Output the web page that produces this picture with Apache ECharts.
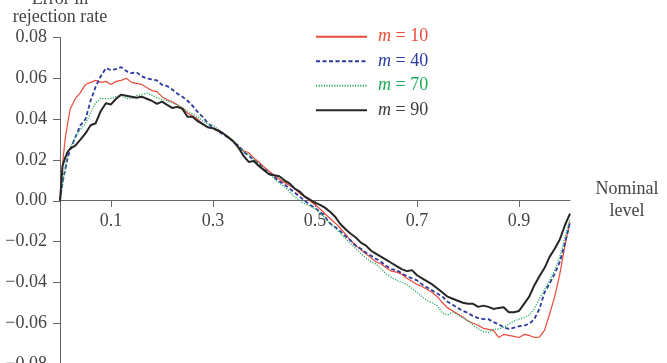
<!DOCTYPE html>
<html>
<head>
<meta charset="utf-8">
<script src="https://cdn.jsdelivr.net/npm/echarts@6/dist/echarts.min.js"></script>
<style>html,body{margin:0;padding:0;background:#fff}#c{width:667px;height:363px}</style>
</head>
<body>
<div id="c"></div>
<script>
var xs = [0,0.005,0.01,0.015,0.02,0.03,0.04,0.05,0.06,0.07,0.08,0.09,0.10,0.11,0.12,0.13,0.14,0.15,0.16,0.17,0.18,0.19,0.20,0.21,0.22,0.23,0.24,0.25,0.26,0.27,0.28,0.29,0.30,0.31,0.32,0.33,0.34,0.35,0.36,0.37,0.38,0.39,0.40,0.41,0.42,0.43,0.44,0.45,0.46,0.47,0.48,0.49,0.50,0.51,0.52,0.53,0.54,0.55,0.56,0.57,0.58,0.59,0.60,0.61,0.62,0.63,0.64,0.65,0.66,0.67,0.68,0.69,0.70,0.71,0.72,0.73,0.74,0.75,0.76,0.77,0.78,0.79,0.80,0.81,0.82,0.83,0.84,0.85,0.86,0.87,0.88,0.89,0.90,0.91,0.92,0.93,0.94,0.95,0.96,0.97,0.98,0.99,1.00];

var m10 = [0,0.018,0.030,0.038,0.045,0.050,0.053,0.057,0.058,0.059,0.058,0.0585,0.057,0.0585,0.059,0.060,0.058,0.0575,0.057,0.0555,0.054,0.0535,0.051,0.0495,0.0485,0.047,0.0455,0.043,0.0415,0.040,0.0375,0.036,0.0355,0.034,0.033,0.0315,0.029,0.0265,0.0245,0.0235,0.021,0.019,0.0165,0.0145,0.0125,0.0105,0.009,0.0075,0.006,0.0035,0.002,0.000,-0.002,-0.004,-0.0065,-0.0088,-0.011,-0.0135,-0.0165,-0.0195,-0.022,-0.024,-0.026,-0.028,-0.030,-0.031,-0.033,-0.0345,-0.035,-0.036,-0.038,-0.0395,-0.041,-0.042,-0.0435,-0.045,-0.047,-0.050,-0.0525,-0.054,-0.0555,-0.057,-0.059,-0.060,-0.061,-0.0625,-0.063,-0.0635,-0.067,-0.0655,-0.066,-0.0665,-0.067,-0.0655,-0.066,-0.067,-0.0668,-0.0635,-0.0555,-0.047,-0.036,-0.022,-0.0104];

var m40 = [0,0.009,0.015,0.021,0.025,0.031,0.037,0.040,0.049,0.056,0.061,0.065,0.064,0.0645,0.0655,0.0635,0.0625,0.063,0.061,0.060,0.0595,0.059,0.0568,0.0562,0.0545,0.0525,0.051,0.049,0.0465,0.0435,0.041,0.038,0.036,0.034,0.0325,0.031,0.029,0.027,0.024,0.022,0.020,0.018,0.0155,0.0135,0.0115,0.0095,0.008,0.006,0.004,0.002,0.000,-0.002,-0.0035,-0.0055,-0.008,-0.0112,-0.013,-0.015,-0.0175,-0.0195,-0.022,-0.0235,-0.0255,-0.027,-0.0285,-0.030,-0.032,-0.0335,-0.034,-0.0355,-0.037,-0.038,-0.039,-0.041,-0.0425,-0.044,-0.0455,-0.047,-0.0495,-0.051,-0.0525,-0.054,-0.055,-0.0565,-0.0575,-0.058,-0.058,-0.0595,-0.0605,-0.062,-0.0628,-0.0622,-0.0615,-0.0612,-0.0603,-0.058,-0.053,-0.045,-0.0405,-0.0358,-0.030,-0.021,-0.0104];

var m70 = [0,0.008,0.016,0.023,0.026,0.031,0.035,0.038,0.043,0.048,0.0502,0.050,0.0502,0.051,0.0518,0.0502,0.050,0.0515,0.052,0.0527,0.0518,0.0505,0.0496,0.049,0.0478,0.047,0.0455,0.044,0.0425,0.0412,0.039,0.0375,0.037,0.035,0.033,0.0315,0.0295,0.0265,0.024,0.0225,0.0205,0.018,0.0155,0.013,0.011,0.0085,0.007,0.0045,0.002,0.000,-0.0015,-0.0025,-0.004,-0.006,-0.0085,-0.0112,-0.0135,-0.016,-0.0185,-0.021,-0.0235,-0.026,-0.028,-0.030,-0.031,-0.0335,-0.036,-0.0375,-0.039,-0.040,-0.041,-0.043,-0.045,-0.047,-0.049,-0.050,-0.0515,-0.055,-0.056,-0.0546,-0.056,-0.0575,-0.0587,-0.061,-0.0628,-0.064,-0.0645,-0.063,-0.0628,-0.062,-0.0605,-0.059,-0.058,-0.0573,-0.056,-0.053,-0.048,-0.0435,-0.039,-0.034,-0.0275,-0.018,-0.009];

var m90 = [0,0.017,0.021,0.024,0.0255,0.027,0.030,0.033,0.037,0.038,0.044,0.0478,0.0472,0.050,0.052,0.0515,0.051,0.0505,0.051,0.050,0.049,0.0475,0.0486,0.047,0.0455,0.046,0.045,0.0412,0.0412,0.039,0.0375,0.036,0.0355,0.0345,0.033,0.031,0.029,0.026,0.022,0.019,0.0195,0.017,0.015,0.013,0.0125,0.012,0.010,0.0085,0.006,0.0045,0.002,0.0005,-0.001,-0.002,-0.0035,-0.0055,-0.008,-0.0115,-0.014,-0.0162,-0.018,-0.0205,-0.022,-0.0245,-0.026,-0.0275,-0.029,-0.0305,-0.032,-0.0335,-0.0345,-0.034,-0.0365,-0.038,-0.0395,-0.041,-0.043,-0.045,-0.047,-0.048,-0.049,-0.050,-0.0505,-0.0505,-0.052,-0.0514,-0.052,-0.053,-0.0525,-0.0522,-0.0546,-0.0546,-0.054,-0.0505,-0.047,-0.0415,-0.037,-0.033,-0.0275,-0.0235,-0.019,-0.012,-0.0063];

var seriesNames = ['m = 10', 'm = 40', 'm = 70', 'm = 90'];
var seriesValues = [m10, m40, m70, m90];
var xTicks = [0.1, 0.3, 0.5, 0.7, 0.9];
var yMin = -0.08, yMax = 0.08, yStep = 0.02;

var colors = ['#ea4a3a', '#2b3a9c', '#2aae62', '#262626'];
var textColors = ['#ea4a3a', '#2b3a9c', '#22a85a', '#3a3a3a'];
var lineStyles = [
  {width: 1.2, type: 'solid'},
  {width: 1.8, type: [4, 2.5]},
  {width: 1.3, type: [1.2, 1.4]},
  {width: 2.0, type: 'solid'}
];
var FONT = '"Liberation Serif", "DejaVu Serif", serif';

function pairs(vals) {
  return xs.map(function (x, i) { return [x, vals[i]]; });
}

var chart = echarts.init(document.getElementById('c'), null, {renderer: 'canvas'});
chart.setOption({
  animation: false,
  backgroundColor: '#fff',
  grid: [
    {left: 60, right: 97, top: 37.5, bottom: -1, containLabel: false, outerBoundsMode: 'none'},
    // upper half: its bottom edge sits at y = 0 of the main grid, carrying the x axis
    {left: 60, right: 97, top: 37.5, bottom: 163, containLabel: false, outerBoundsMode: 'none'}
  ],
  legend: {
    orient: 'vertical',
    left: 310,
    top: 21.7,
    itemWidth: 51,
    itemHeight: 14,
    itemGap: 4.5,
    itemStyle: {color: 'rgba(0,0,0,0)', borderColor: 'rgba(0,0,0,0)', borderWidth: 0, opacity: 0},
    data: seriesNames.map(function (n, i) {
      return {name: n, textStyle: {color: textColors[i]}};
    }),
    formatter: function (name) {
      return '{i|m} = ' + name.split('= ')[1];
    },
    textStyle: {
      fontFamily: FONT, fontSize: 18, lineHeight: 20,
      rich: {i: {fontFamily: FONT, fontSize: 18, fontStyle: 'italic', padding: [0, 0, 0, 6]}}
    }
  },
  xAxis: [
    {
      gridIndex: 0, type: 'value', min: 0, max: 1, show: false
    },
    {
      gridIndex: 1, type: 'value', min: 0, max: 1, position: 'bottom',
      name: 'Nominal\nlevel', nameLocation: 'end', nameGap: 57,
      nameTextStyle: {fontFamily: FONT, fontSize: 18, color: '#444', align: 'center', lineHeight: 22},
      axisLine: {show: true, onZero: false, lineStyle: {color: '#666', width: 1}},
      axisTick: {show: true, length: 7, inside: false, customValues: xTicks, lineStyle: {color: '#666'}},
      axisLabel: {customValues: xTicks, margin: 12, fontFamily: FONT, fontSize: 18, color: '#444',
        formatter: function (v) { return v.toFixed(1); }},
      splitLine: {show: false}
    }
  ],
  yAxis: [
    {
      gridIndex: 0, type: 'value', min: yMin, max: yMax, interval: yStep,
      name: 'Error in\nrejection rate', nameLocation: 'end', nameGap: 11.5,
      nameTextStyle: {fontFamily: FONT, fontSize: 18, color: '#444', align: 'center', lineHeight: 18},
      axisLine: {show: true, onZero: false, lineStyle: {color: '#666', width: 1}},
      axisTick: {show: true, length: 7, lineStyle: {color: '#666'}},
      axisLabel: {margin: 13, fontFamily: FONT, fontSize: 18, color: '#444',
        formatter: function (v) {
          var a = Math.abs(v).toFixed(2);
          return (v < -1e-9 ? '\u2212' : '') + a;
        }},
      splitLine: {show: false}
    },
    {
      gridIndex: 1, type: 'value', min: 0, max: yMax, show: false
    }
  ],
  series: seriesNames.map(function (n, i) {
    return {
      name: n, type: 'line', symbol: 'none', showSymbol: false,
      xAxisIndex: 0, yAxisIndex: 0,
      data: pairs(seriesValues[i]),
      itemStyle: {color: colors[i]},
      lineStyle: {color: colors[i], width: lineStyles[i].width, type: lineStyles[i].type},
      z: 2 + i
    };
  })
});
</script>
</body>
</html>
